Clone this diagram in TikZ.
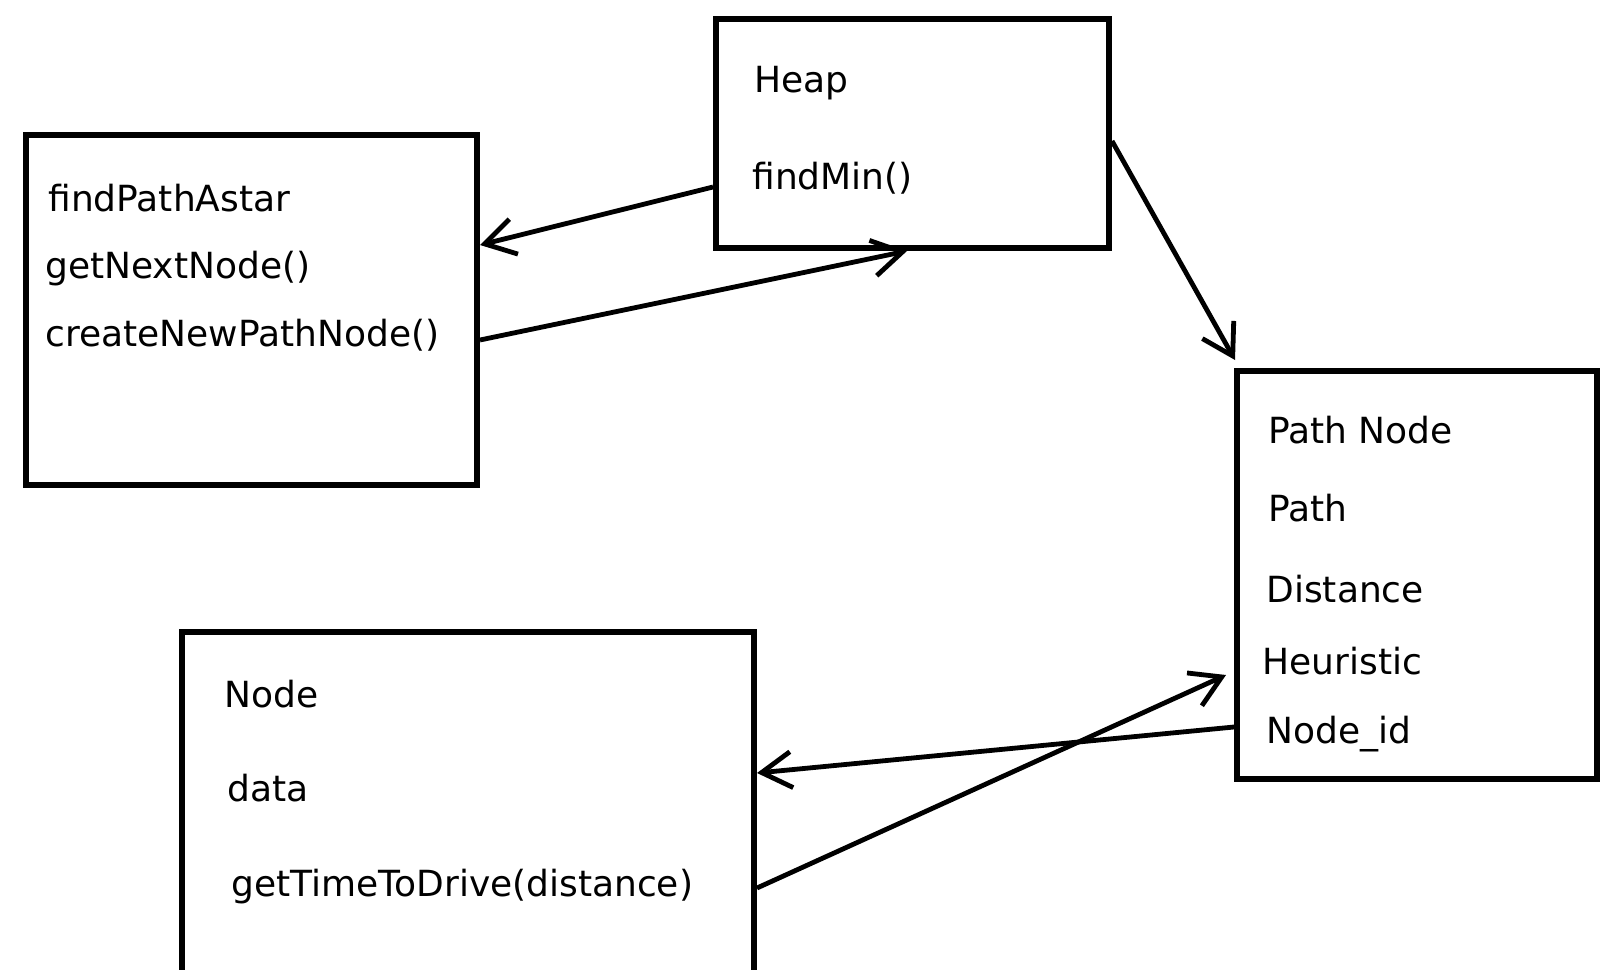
\documentclass[tikz,border=0pt]{standalone}
\usepackage{fontspec}
\setmainfont{DejaVu Sans}
\usetikzlibrary{arrows.meta,calc}
\tikzset{
  classbox/.style={draw,line width=3pt,inner sep=0pt,rectangle},
  member/.style={anchor=base west,inner sep=0pt,font=\fontsize{18}{22}\selectfont},
  link/.style={line width=2.4pt,-{Straight Barb[length=15pt,width=18pt]}}
}

\begin{document}
\begin{tikzpicture}[x=0.5pt,y=-0.5pt]
        \useasboundingbox (0,0) rectangle (1616,969);
        \clip (0,0) rectangle (1616,969);
        % class boxes
        \node[classbox,minimum width=225.5pt,minimum height=175pt] (astar) at (251.5,310) {};
        \node[classbox,minimum width=196.5pt,minimum height=114.5pt] (heap) at (912.5,133.5) {};
        \node[classbox,minimum width=180pt,minimum height=204pt] (pathnode) at (1417,575) {};
        \node[classbox,minimum width=286pt,minimum height=214pt] (nodebox) at (468,846) {};
        % members
        \node[member] (astarname) at (48,211) {findPathAstar};
        \node[member] (getnext) at (45,278) {getNextNode()};
        \node[member] (createnew) at (45,346) {createNewPathNode()};
        \node[member] (heapname) at (754,92) {Heap};
        \node[member] (findmin) at (752,189) {findMin()};
        \node[member] (pnname) at (1268,443) {Path Node};
        \node[member] (pnpath) at (1268,521) {Path};
        \node[member] (pndist) at (1266,602) {Distance};
        \node[member] (pnheur) at (1262,674) {Heuristic};
        \node[member] (pnid) at (1266,743) {Node\_id};
        \node[member] (nodename) at (224,707) {Node};
        \node[member] (nodedata) at (227,801) {data};
        \node[member] (nodetime) at (231,896) {getTimeToDrive(distance)};
        % links
        \draw[link] ([yshift=-26.75pt]heap.west) -- ([yshift=32.5pt]astar.east);
        \draw[link] ([yshift=-15pt]astar.east) -- ([xshift=-2.75pt]heap.south);
        \draw[link] ([yshift=-3.75pt]heap.east) -- ([shift={(0.5pt,4pt)}]pathnode.north west);
        \draw[link] ([yshift=-76pt]pathnode.west) -- ([yshift=36.5pt]nodebox.east);
        \draw[link] ([yshift=-21pt]nodebox.east) -- ([shift={(-4pt,-50pt)}]pathnode.west);
      \end{tikzpicture}
\end{document}
